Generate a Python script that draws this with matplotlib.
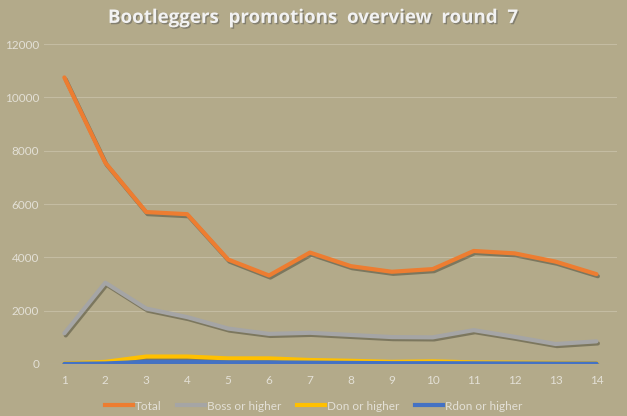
import matplotlib
matplotlib.use('Agg')
import matplotlib.pyplot as plt
import matplotlib.patheffects as pe
from matplotlib.lines import Line2D

rounds = list(range(1, 15))
total = [10750, 7550, 5700, 5620, 3920, 3320, 4180, 3670, 3460, 3560, 4240, 4150, 3840, 3370]
boss = [1150, 3050, 2080, 1760, 1330, 1130, 1170, 1090, 1010, 1000, 1270, 1020, 750, 850]
don = [20, 80, 280, 280, 210, 210, 150, 120, 80, 100, 60, 50, 40, 30]
rdon = [5, 20, 80, 80, 60, 60, 50, 40, 30, 30, 25, 20, 15, 15]

series = [
    ('Total', total, '#ED7D31'),
    ('Boss or higher', boss, '#A5A5A5'),
    ('Don or higher', don, '#FFC000'),
    ('Rdon or higher', rdon, '#4472C4'),
]

bg = '#B3AA8A'
txt = '#E3E0D6'
plt.rcParams['font.family'] = ['Lato', 'DejaVu Sans']

fig = plt.figure(figsize=(6.27, 4.16), dpi=100, facecolor=bg)
ax = fig.add_axes([0.070, 0.125, 0.914, 0.769], facecolor=bg)

shadow = [pe.SimpleLineShadow(offset=(1, -1.5), shadow_color='#3a3a2a', alpha=0.45), pe.Normal()]
handles = []
for name, vals, col in series:
    ax.plot(rounds, vals, color=col, lw=3, path_effects=shadow,
            solid_joinstyle='round', solid_capstyle='round')
    handles.append(Line2D([], [], color=col, lw=3, label=name))

ax.set_xlim(0.5, 14.5)
ax.set_ylim(0, 12000)
ax.set_xticks(rounds)
ax.set_yticks(range(0, 12001, 2000))
ax.yaxis.grid(True, color='#C4BCA2', lw=0.8)
ax.set_axisbelow(True)
for s in ax.spines.values():
    s.set_visible(False)
ax.tick_params(length=0, colors=txt, labelsize=8.5)
ax.tick_params(axis='x', pad=8)

fig.text(0.5, 0.957, 'Bootleggers  promotions  overview  round  7', ha='center', va='center',
         fontsize=13.5, fontweight='bold', color='#F2F2F2', family=['Open Sans', 'DejaVu Sans'],
         path_effects=[pe.withSimplePatchShadow(offset=(1, -1), shadow_rgbFace='#555', alpha=0.5)])

leg = fig.legend(handles=handles, loc='lower center', bbox_to_anchor=(0.5, -0.015), ncol=4,
                 frameon=False, fontsize=8.5, handlelength=2.4, handletextpad=0.15,
                 columnspacing=1.3)
for t in leg.get_texts():
    t.set_color(txt)

fig.savefig('out.png', dpi=100, facecolor=bg)
